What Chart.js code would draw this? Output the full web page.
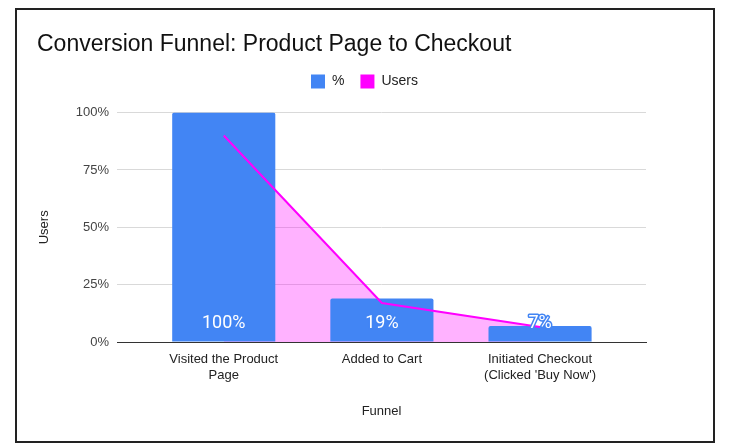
<!DOCTYPE html>
<html>
<head>
<meta charset="utf-8">
<script src="https://cdn.jsdelivr.net/npm/chart.js@4.4.1/dist/chart.umd.min.js"></script>
<style>
  body { margin: 0; background: #fff; }
  #wrap { position: relative; width: 735px; height: 445px; }
  #frame {
    position: absolute; left: 15px; top: 8px; width: 700px; height: 435px;
    box-sizing: border-box; border: 2px solid #222; pointer-events: none;
  }
</style>
</head>
<body>
<div id="wrap">
  <canvas id="funnelChart" width="735" height="445"></canvas>
  <div id="frame"></div>
</div>
<script>
const categories = [['Visited the Product', 'Page'], 'Added to Cart', ['Initiated Checkout', "(Clicked 'Buy Now')"]];
const percentValues = [100, 19, 7];
const userValues = [90, 17, 6.5];
const yTicks = [0, 25, 50, 75, 100];

const BLUE = '#4285F4';
const MAGENTA = '#FF00FF';

// labels sitting inside the bottom of each bar
const barLabels = {
  id: 'barLabels',
  afterDatasetsDraw(chart) {
    const meta = chart.getDatasetMeta(0);
    const y = chart.scales.y.getPixelForValue(0) - 19;
    const ctx = chart.ctx;
    ctx.save();
    ctx.font = '18px Roboto, "Liberation Sans", sans-serif';
    ctx.textAlign = 'center';
    ctx.textBaseline = 'middle';
    ctx.lineJoin = 'round';
    meta.data.forEach((bar, i) => {
      const txt = percentValues[i] + '%';
      ctx.lineWidth = 3;
      ctx.strokeStyle = BLUE;
      ctx.strokeText(txt, bar.x, y);
      ctx.fillStyle = '#fff';
      ctx.fillText(txt, bar.x, y);
    });
    ctx.restore();
  }
};

// give the legend some room below it and centre it on the whole page
const legendSpace = {
  id: 'legendSpace',
  beforeLayout(chart) {
    const legend = chart.legend;
    if (legend && !legend._spaced) {
      const fit = legend.fit;
      legend.fit = function () {
        fit.call(this);
        this.height += 14;
      };
      legend._spaced = true;
    }
  },
  afterLayout(chart) {
    chart.legend.left += 23;
    chart.legend.right += 23;
  }
};

const ctx = document.getElementById('funnelChart').getContext('2d');
new Chart(ctx, {
  type: 'bar',
  data: {
    datasets: [{
      label: '%',
      data: percentValues.map((v, i) => ({ x: i, y: v })),
      backgroundColor: BLUE,
      borderRadius: 2,
      barPercentage: 1,
      categoryPercentage: 0.652,
      order: 2
    }, {
      type: 'line',
      label: 'Users',
      data: userValues.map((v, i) => ({ x: i, y: v })),
      borderColor: MAGENTA,
      backgroundColor: 'rgba(255, 0, 255, 0.3)',
      borderWidth: 2,
      pointRadius: 0,
      fill: 'origin',
      tension: 0,
      order: 1
    }]
  },
  options: {
    responsive: false,
    animation: false,
    layout: { padding: { left: 37, right: 89, top: 0, bottom: 26 } },
    plugins: {
      filler: { drawTime: 'beforeDatasetsDraw' },
      tooltip: { enabled: false },
      title: {
        display: true,
        text: 'Conversion Funnel: Product Page to Checkout',
        align: 'start',
        color: '#111',
        font: { family: '"Liberation Sans", Arial, sans-serif', size: 23, weight: 'normal' },
        padding: { top: 31, bottom: 0 }
      },
      legend: {
        position: 'top',
        labels: {
          generateLabels(chart) {
            return chart.data.datasets.map((d, i) => ({
              text: d.label,
              fillStyle: i === 0 ? BLUE : MAGENTA,
              strokeStyle: i === 0 ? BLUE : MAGENTA,
              lineWidth: 0,
              fontColor: '#222',
              datasetIndex: i
            }));
          },
          boxWidth: 14,
          boxHeight: 14,
          padding: 16,
          color: '#222',
          font: { family: '"Liberation Sans", Arial, sans-serif', size: 14 }
        }
      }
    },
    scales: {
      x: {
        type: 'linear',
        offset: false,
        min: -0.675,
        max: 2.67,
        afterBuildTicks(scale) {
          scale.ticks = categories.map((c, i) => ({ value: i }));
        },
        afterFit(scale) { scale.height = 77; },
        ticks: {
          callback: (v) => categories[v],
          color: '#222',
          padding: 2,
          maxRotation: 0,
          autoSkip: false,
          font: { family: '"Liberation Sans", Arial, sans-serif', size: 13 }
        },
        grid: { display: false, offset: false },
        border: { display: true, color: '#333', width: 1 },
        title: {
          display: true,
          text: 'Funnel',
          color: '#222',
          padding: 0,
          font: { family: '"Liberation Sans", Arial, sans-serif', size: 13 }
        }
      },
      y: {
        min: 0,
        max: 100,
        afterBuildTicks(scale) {
          scale.ticks = yTicks.map(v => ({ value: v }));
        },
        afterFit(scale) { scale.width = 80; },
        ticks: {
          callback: (v) => v + '%',
          color: '#444',
          padding: 8,
          font: { family: '"Liberation Sans", Arial, sans-serif', size: 13 }
        },
        grid: {
          drawTicks: false,
          color: (c) => c.tick && c.tick.value === 0 ? 'rgba(0,0,0,0)' : '#d9d9d9'
        },
        border: { display: false },
        title: {
          display: true,
          text: 'Users',
          color: '#222',
          padding: 0,
          font: { family: '"Liberation Sans", Arial, sans-serif', size: 13 }
        }
      }
    }
  },
  plugins: [barLabels, legendSpace]
});
</script>
</body>
</html>
